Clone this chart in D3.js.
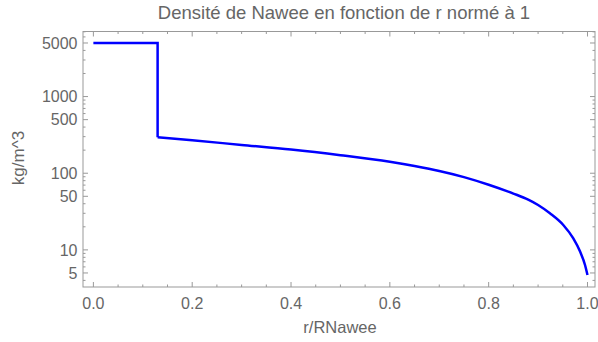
<!DOCTYPE html>
<html lang="fr">
  <head>
    <meta charset="UTF-8" />
    <title>Densité de Nawee</title>
    <script src="https://d3js.org/d3.v7.min.js"></script>
    <style>
      body {
        margin: 0;
        background: #fff;
        font-family: "Liberation Sans", Arial, sans-serif;
      }
      text {
        fill: #666;
      }
    </style>
  </head>
  <body>
    <div id="chart"></div>
    <script>
      // density profile (r normalised to 1, kg/m^3)
      const coreR = [0, 0.13, 0.13];
      const coreRho = [5000, 5000, 294];
      const mantleR = [0.13, 0.2, 0.3, 0.4, 0.5, 0.6, 0.65, 0.7, 0.75, 0.8, 0.85, 0.88, 0.9, 0.924, 0.951, 0.971, 0.985, 0.995, 1.0];
      const mantleRho = [294, 269, 234, 204, 172, 141, 124, 107, 89, 70.8, 54.3, 45.2, 38.5, 30, 21.1, 14.2, 9.5, 6.35, 4.7];

      const xMajor = [0, 0.2, 0.4, 0.6, 0.8, 1.0];
      const xMinor = [0.05, 0.1, 0.15, 0.25, 0.3, 0.35, 0.45, 0.5, 0.55, 0.65, 0.7, 0.75, 0.85, 0.9, 0.95];
      const yMajor = [5, 10, 50, 100, 500, 1000, 5000];
      const yMinor = [4, 6, 7, 8, 9, 20, 30, 40, 60, 70, 80, 90, 200, 300, 400, 600, 700, 800, 900, 2000, 3000, 4000, 6000, 7000];

      const width = 598;
      const height = 342;
      const fLeft = 83, fRight = 595, fTop = 31.5, fBottom = 287;

      const svg = d3
        .select("#chart")
        .append("svg")
        .attr("width", width)
        .attr("height", height);

      const x = d3.scaleLinear().domain([-0.021, 1.0152]).range([fLeft, fRight]);
      const y = d3.scaleLog().domain([3.28, 7060]).range([fBottom, fTop]);

      const tickColor = "#999";

      // inward ticks on all four sides, Mathematica style
      function xticks(vals, len) {
        vals.forEach((v) => {
          const px = x(v);
          svg.append("line").attr("x1", px).attr("x2", px)
            .attr("y1", fBottom).attr("y2", fBottom - len)
            .attr("stroke", tickColor);
          svg.append("line").attr("x1", px).attr("x2", px)
            .attr("y1", fTop).attr("y2", fTop + len)
            .attr("stroke", tickColor);
        });
      }
      function yticks(vals, len) {
        vals.forEach((v) => {
          const py = y(v);
          svg.append("line").attr("x1", fLeft).attr("x2", fLeft + len)
            .attr("y1", py).attr("y2", py)
            .attr("stroke", tickColor);
          svg.append("line").attr("x1", fRight).attr("x2", fRight - len)
            .attr("y1", py).attr("y2", py)
            .attr("stroke", tickColor);
        });
      }
      xticks(xMajor, 5);
      xticks(xMinor, 2.5);
      yticks(yMajor, 5);
      yticks(yMinor, 2.5);

      svg.append("rect")
        .attr("x", fLeft).attr("y", fTop)
        .attr("width", fRight - fLeft).attr("height", fBottom - fTop)
        .attr("fill", "none").attr("stroke", tickColor);

      svg.selectAll(".xl").data(xMajor).enter().append("text")
        .attr("x", (d) => x(d)).attr("y", 309)
        .attr("text-anchor", "middle").attr("font-size", 16)
        .text(d3.format(".1f"));

      svg.selectAll(".yl").data(yMajor).enter().append("text")
        .attr("x", 77.5).attr("y", (d) => y(d) + 5.7)
        .attr("text-anchor", "end").attr("font-size", 16)
        .text((d) => d);

      // curve: flat core, then the mantle profile
      const line = d3.line().x((d) => x(d[0])).y((d) => y(d[1]));
      svg.append("path")
        .datum(coreR.map((r, i) => [r, coreRho[i]]))
        .attr("d", line)
        .attr("fill", "none").attr("stroke", "#0000ff")
        .attr("stroke-width", 2.5);
      svg.append("path")
        .datum(mantleR.map((r, i) => [r, mantleRho[i]]))
        .attr("d", line.curve(d3.curveMonotoneX))
        .attr("fill", "none").attr("stroke", "#0000ff")
        .attr("stroke-width", 2.5);

      svg.append("text")
        .attr("x", 344).attr("y", 19)
        .attr("text-anchor", "middle").attr("font-size", 18.5)
        .text("Densité de Nawee en fonction de r normé à 1");

      svg.append("text")
        .attr("x", 340).attr("y", 333)
        .attr("text-anchor", "middle").attr("font-size", 16.5)
        .text("r/RNawee");

      svg.append("text")
        .attr("transform", "translate(24,158) rotate(-90)")
        .attr("text-anchor", "middle").attr("font-size", 17)
        .text("kg/m^3");
    </script>
  </body>
</html>
